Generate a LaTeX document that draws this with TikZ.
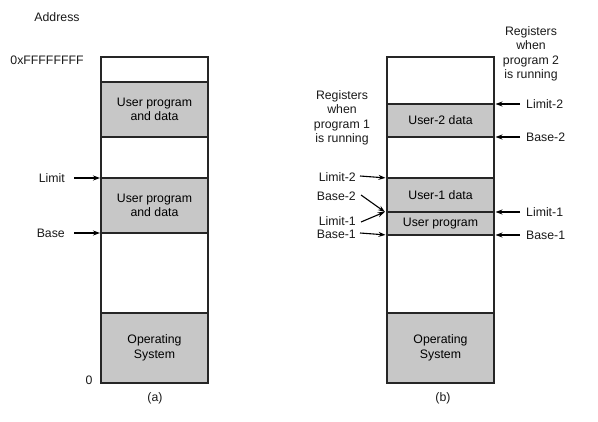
\documentclass[tikz,border=0pt]{standalone}
\usepackage{fontspec}
\setmainfont{Liberation Sans}
\usetikzlibrary{arrows.meta}
\begin{document}
\begin{tikzpicture}[x=1pt,y=-1pt,
  every node/.style={font=\fontsize{12.3}{14.5}\selectfont, inner sep=0pt},
  seg/.style={draw=black!85, line width=1.2pt, anchor=north west, minimum width=107pt, outer sep=0pt, align=center},
  used/.style={seg, fill=black!22},
  free/.style={seg, fill=white},
  arr/.style={-{Stealth[length=7pt,width=5pt]}, line width=1.1pt, black},
  lbl/.style={text=black!90}
]
\path[use as bounding box] (0,0) rectangle (598,422);

% ---- (a) ----
\node[free, minimum height=25pt] (a1) at (101,57) {};
\node[used, minimum height=55pt] (a2) at (101,82) {User program\\and data};
\node[free, minimum height=41pt] (a3) at (101,137) {};
\node[used, minimum height=55pt] (a4) at (101,178) {User program\\and data};
\node[free, minimum height=80pt] (a5) at (101,233) {};
\node[used, minimum height=70pt] (a6) at (101,313) {Operating\\System};

\node[lbl] (addr) at (57,17) {Address};
\node[lbl] (ffff) at (47,60) {0xFFFFFFFF};
\node[lbl] (zero) at (89,380) {0};
\node[lbl, anchor=east] (lim) at (65,178) {Limit};
\node[lbl, anchor=east] (base) at (65,233) {Base};
\draw[arr, shorten >=1pt] ([xshift=9pt]lim.east) -- (a4.north west);
\draw[arr, shorten >=1pt] ([xshift=9pt]base.east) -- (a4.south west);
\node[lbl] (capa) at (155,398) {(a)};

% ---- (b) ----
\node[free, minimum height=47pt] (b1) at (387,57) {};
\node[used, minimum height=33pt] (b2) at (387,104) {User-2 data};
\node[free, minimum height=41pt] (b3) at (387,137) {};
\node[used, minimum height=34pt] (b4) at (387,178) {User-1 data};
\node[used, minimum height=23pt] (b5) at (387,212) {User program};
\node[free, minimum height=78pt] (b6) at (387,235) {};
\node[used, minimum height=70pt] (b7) at (387,313) {Operating\\System};
\node[lbl] (capb) at (443,398) {(b)};

% registers text
\node[lbl, align=center] (reg2) at (531,54) {Registers\\when\\program 2\\is running};
\node[lbl, align=center] (reg1) at (342,118) {Registers\\when\\program 1\\is running};

% right labels
\node[lbl, anchor=west] (rl2) at (526,104) {Limit-2};
\node[lbl, anchor=west] (rb2) at (526,137) {Base-2};
\node[lbl, anchor=west] (rl1) at (526,212) {Limit-1};
\node[lbl, anchor=west] (rb1) at (526,235) {Base-1};
\draw[arr, shorten >=1.5pt] ([xshift=-6pt]rl2.west) -- (b2.north east);
\draw[arr, shorten >=1.5pt] ([xshift=-6pt]rb2.west) -- (b2.south east);
\draw[arr, shorten >=1.5pt] ([xshift=-6pt]rl1.west) -- (b5.north east);
\draw[arr, shorten >=1.5pt] ([xshift=-6pt]rb1.west) -- (b5.south east);

% left labels
\node[lbl, anchor=east] (ll2) at (356,177) {Limit-2};
\node[lbl, anchor=east] (lb2) at (356,196) {Base-2};
\node[lbl, anchor=east] (ll1) at (356,221) {Limit-1};
\node[lbl, anchor=east] (lb1) at (356,234) {Base-1};
\draw[arr, shorten >=1.5pt] ([xshift=4pt,yshift=1pt]ll2.east) -- (b4.north west);
\draw[arr, shorten >=2.5pt] ([xshift=5pt,yshift=1pt]lb2.east) -- ([yshift=-1.5pt]b5.north west);
\draw[arr, shorten >=2.5pt] ([xshift=5pt,yshift=-1pt]ll1.east) -- ([yshift=1pt]b5.north west);
\draw[arr, shorten >=1.5pt] ([xshift=4pt,yshift=1pt]lb1.east) -- (b5.south west);
\end{tikzpicture}
\end{document}
